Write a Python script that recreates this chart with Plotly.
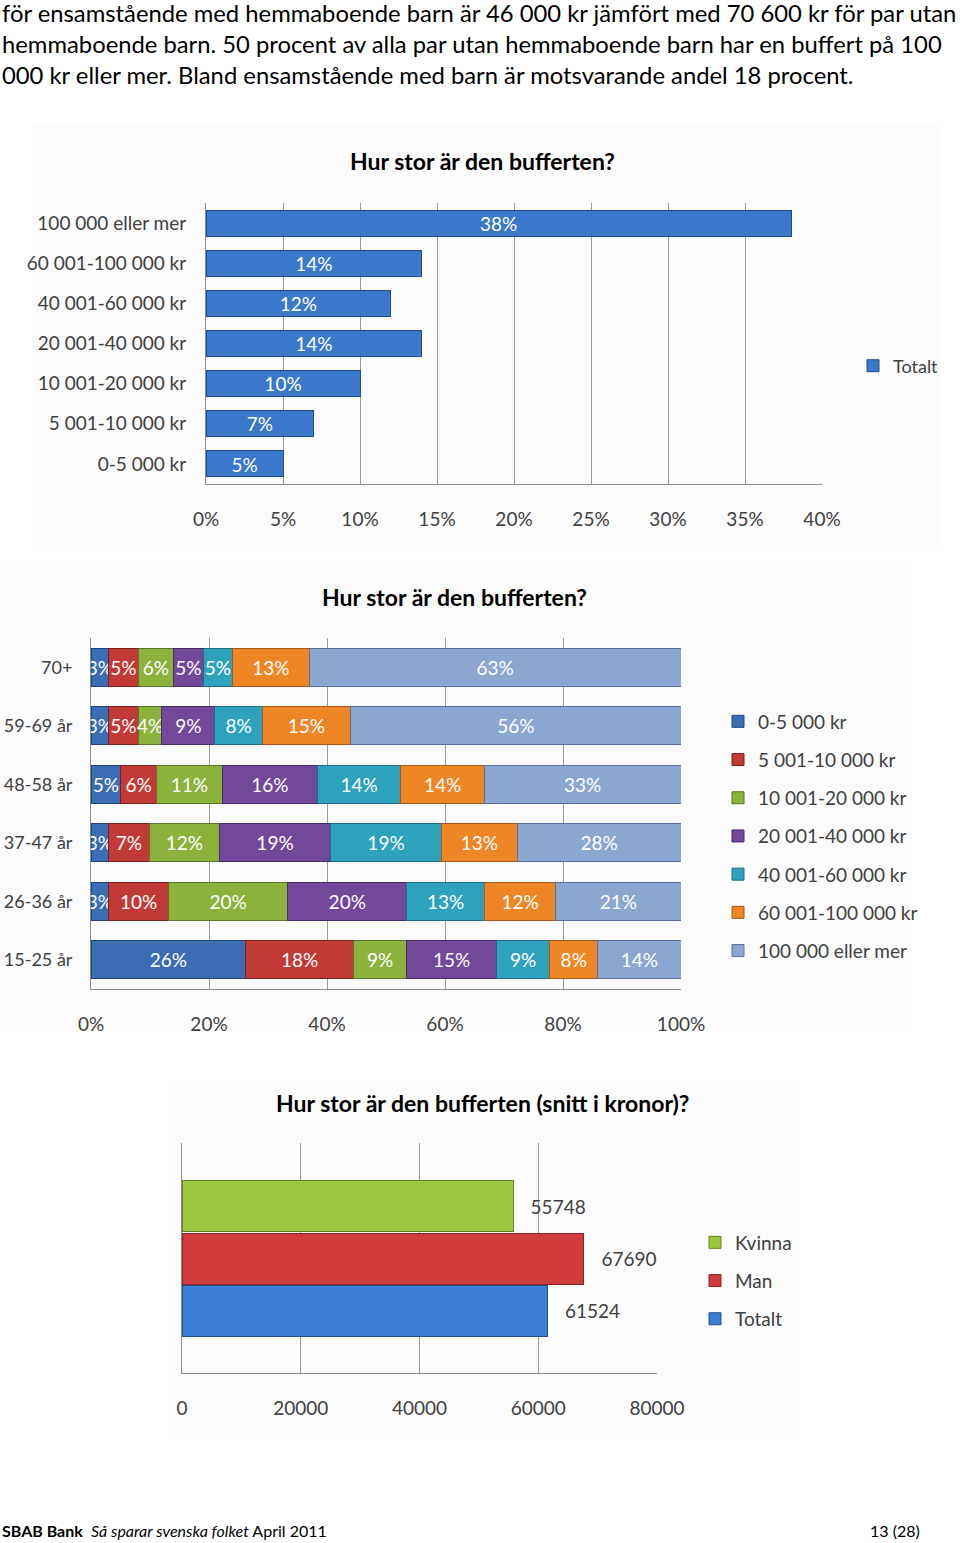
import plotly.graph_objects as go

# --- data ---
intro_lines = [
    "för ensamstående med hemmaboende barn är 46 000 kr jämfört med 70 600 kr för par utan",
    "hemmaboende barn. 50 procent av alla par utan hemmaboende barn har en buffert på 100",
    "000 kr eller mer. Bland ensamstående med barn är motsvarande andel 18 procent.",
]

title1 = "Hur stor är den bufferten?"
levels = ["100 000 eller mer", "60 001-100 000 kr", "40 001-60 000 kr", "20 001-40 000 kr",
          "10 001-20 000 kr", "5 001-10 000 kr", "0-5 000 kr"]
totalt_pct = [38, 14, 12, 14, 10, 7, 5]

title2 = "Hur stor är den bufferten?"
ages = ["70+", "59-69 år", "48-58 år", "37-47 år", "26-36 år", "15-25 år"]
brackets = ["0-5 000 kr", "5 001-10 000 kr", "10 001-20 000 kr", "20 001-40 000 kr",
            "40 001-60 000 kr", "60 001-100 000 kr", "100 000 eller mer"]
# one list per bracket, values per age group (same order as ages)
age_pct = [
    [3, 3, 5, 3, 3, 26],
    [5, 5, 6, 7, 10, 18],
    [6, 4, 11, 12, 20, 9],
    [5, 9, 16, 19, 20, 15],
    [5, 8, 14, 19, 13, 9],
    [13, 15, 14, 13, 12, 8],
    [63, 56, 33, 28, 21, 14],
]

title3 = "Hur stor är den bufferten (snitt i kronor)?"
groups = ["Kvinna", "Man", "Totalt"]
snitt_kr = [55748, 67690, 61524]

footer_left = "<b>SBAB Bank</b>  <i>Så sparar svenska folket</i> April 2011"
footer_right = "13 (28)"

# --- styling ---
W, H = 960, 1543
FONT = "Lato"
bracket_colors = ["#3b6db5", "#c23a36", "#8cb23c", "#72489b", "#2ea2bd", "#ef8626", "#8ca6d2"]
bracket_lines = ["#22457e", "#7f1f1c", "#587625", "#482c66", "#1b6f82", "#a8561a", "#5a7099"]
gender_colors = {"Totalt": "#3b7fd4", "Man": "#d03c3b", "Kvinna": "#9cc63e"}
gender_lines = {"Totalt": "#244f8a", "Man": "#8a2423", "Kvinna": "#648226"}


def px_x(x):
    return x / W


def px_y(y):
    return 1 - y / H


fig = go.Figure()

# chart 1
fig.add_trace(go.Bar(
    y=levels, x=totalt_pct, orientation="h", name="Totalt", showlegend=True,
    marker=dict(color="#3a78cb", line=dict(color="#1f4c8a", width=1)),
    text=[f"{v}%" for v in totalt_pct], textposition="inside", insidetextanchor="middle",
    textfont=dict(color="white", size=20, family=FONT), textangle=0, constraintext="none",
    xaxis="x", yaxis="y", legend="legend",
))

# chart 2 (100% stacked: each row scaled to its own sum, like Excel does)
row_sums = [sum(col) for col in zip(*age_pct)]
for i, name in enumerate(brackets):
    vals = age_pct[i]
    fig.add_trace(go.Bar(
        y=ages, x=[v / s * 100 for v, s in zip(vals, row_sums)], orientation="h", name=name,
        marker=dict(color=bracket_colors[i], line=dict(color=bracket_lines[i], width=1)),
        text=[f"{v}%" for v in vals], textposition="inside", insidetextanchor="middle",
        textfont=dict(color="white", size=20, family=FONT), textangle=0, constraintext="none",
        xaxis="x2", yaxis="y2", legend="legend2", legendgroup=name,
    ))

# chart 3
for g, v in zip(groups, snitt_kr):
    fig.add_trace(go.Bar(
        y=[g], x=[v], orientation="h", name=g, width=0.98,
        marker=dict(color=gender_colors[g], line=dict(color=gender_lines[g], width=1)),
        text=[f"   {v}"], textposition="outside", cliponaxis=False,
        textfont=dict(color="#404040", size=19, family=FONT),
        xaxis="x3", yaxis="y3", legend="legend3", legendgroup=g,
    ))

grid = dict(showgrid=True, gridcolor="#9a9a9a", gridwidth=1, zeroline=False,
            showline=True, linecolor="#8c8c8c", linewidth=1, ticks="", automargin=False,
            tickfont=dict(size=19, color="#404040", family=FONT), fixedrange=True)
cat = dict(showgrid=False, zeroline=False, showline=True, linecolor="#8c8c8c", linewidth=1,
           ticks="", automargin=False, tickfont=dict(size=19, color="#404040", family=FONT),
           fixedrange=True)
leg = dict(xanchor="left", yanchor="middle", itemwidth=30, bgcolor="rgba(0,0,0,0)",
           font=dict(size=19, color="#404040", family=FONT))

fig.update_layout(
    width=W, height=H, margin=dict(l=0, r=0, t=0, b=0, autoexpand=False),
    paper_bgcolor="white", plot_bgcolor="rgba(0,0,0,0)",
    font=dict(family=FONT, color="#404040"), showlegend=True,
    barmode="stack", bargap=0.35,
    xaxis=dict(grid, domain=[px_x(206), px_x(822)], range=[0, 40], dtick=5, ticksuffix="%",
               anchor="y", ticklabelstandoff=18),
    yaxis=dict(cat, domain=[px_y(484), px_y(203)], autorange="reversed", anchor="x",
               ticklabelstandoff=15),
    xaxis2=dict(grid, domain=[px_x(91), px_x(681)], range=[0, 100], dtick=20, ticksuffix="%",
                anchor="y2", ticklabelstandoff=18),
    yaxis2=dict(cat, domain=[px_y(989), px_y(638)], autorange="reversed", anchor="x2",
                ticklabelstandoff=14, tickfont=dict(size=18, color="#404040", family=FONT)),
    xaxis3=dict(grid, domain=[px_x(182), px_x(657)], range=[0, 80000], dtick=20000,
                tickformat="d", anchor="y3", ticklabelstandoff=18),
    yaxis3=dict(cat, domain=[px_y(1373), px_y(1143)], range=[-1.2, 3.22], showticklabels=False,
                categoryorder="array", categoryarray=["Totalt", "Man", "Kvinna"], anchor="x3"),
    legend=dict(leg, x=px_x(853), y=px_y(366), font=dict(size=18, color="#404040", family=FONT)),
    legend2=dict(leg, x=px_x(718), y=px_y(836), traceorder="grouped", tracegroupgap=10.5),
    legend3=dict(leg, x=px_x(695), y=px_y(1281), traceorder="grouped", tracegroupgap=10.5),
    uniformtext=dict(minsize=18, mode="show"),
)

# faint chart-area backgrounds
for x0, y0, x1, y1 in [(33, 125, 940, 545), (0, 560, 912, 1032), (175, 1080, 800, 1440)]:
    fig.add_shape(type="rect", xref="paper", yref="paper", layer="below",
                  x0=px_x(x0), x1=px_x(x1), y0=px_y(y1), y1=px_y(y0),
                  fillcolor="#fbfbfb", line=dict(width=0))

annotations = []
for i, line in enumerate(intro_lines):
    annotations.append(dict(text=line, x=0, y=px_y(13 + 31 * i), xanchor="left", yanchor="middle",
                            font=dict(size=23.8, color="black", family=FONT)))
for t, x, y in [(title1, 482, 161), (title2, 454, 597), (title3, 482, 1103)]:
    annotations.append(dict(text=f"<b>{t}</b>", x=px_x(x), y=px_y(y), xanchor="center",
                            yanchor="middle", font=dict(size=23, color="black", family=FONT)))
annotations.append(dict(text=footer_left, x=0, y=px_y(1530), xanchor="left", yanchor="middle",
                        font=dict(size=16, color="black", family=FONT)))
annotations.append(dict(text=footer_right, x=px_x(922), y=px_y(1530), xanchor="right",
                        yanchor="middle", font=dict(size=16, color="black", family=FONT)))
for a in annotations:
    a.update(xref="paper", yref="paper", showarrow=False)
fig.update_layout(annotations=annotations)

# page has the default 8px body margin; drop it so the figure fills the window exactly
fig.write_html("out.html", config={"displayModeBar": False},
               post_script="document.body.style.margin='0';"
                           "document.body.style.overflow='hidden';")
